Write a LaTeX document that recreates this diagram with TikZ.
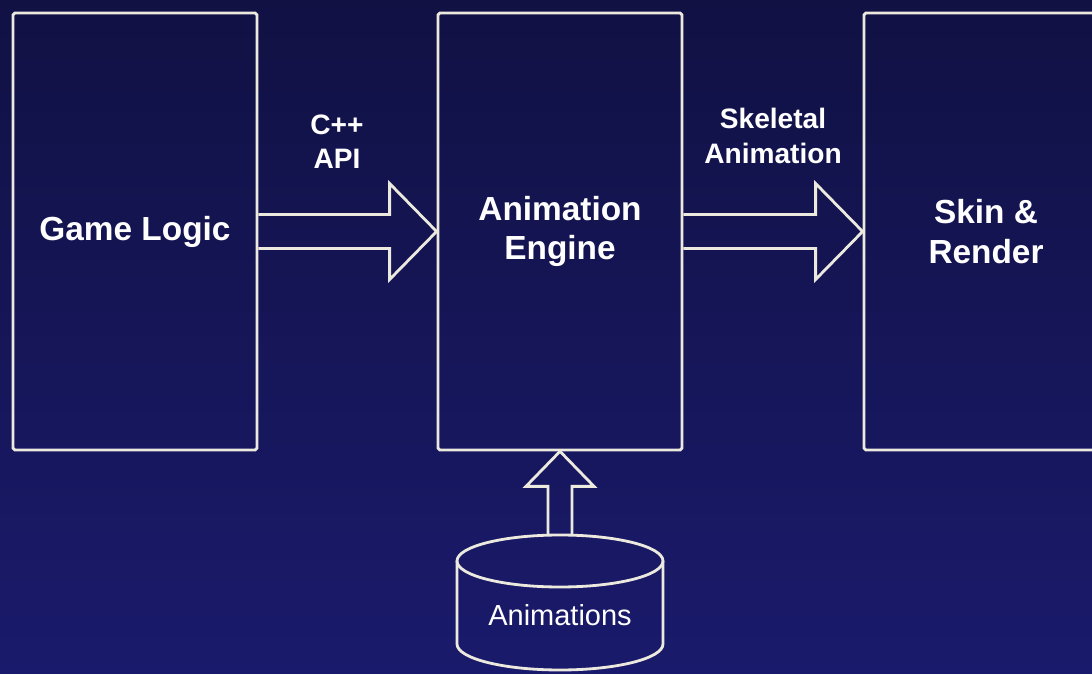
\documentclass[tikz,border=0pt]{standalone}
\usepackage{fontspec}
\setmainfont{Liberation Sans}
\usepackage{tikz}
\usetikzlibrary{positioning}
\definecolor{bgtop}{RGB}{17,17,68}
\definecolor{bgbottom}{RGB}{26,26,108}
\definecolor{chalk}{RGB}{236,234,222}
\tikzset{
  box/.style={draw=chalk,rounded corners=1pt,minimum width=4.88cm,minimum height=8.74cm,
    align=center,text=white,font=\fontsize{19}{22.7}\selectfont\bfseries},
  tag/.style={align=center,text=white,font=\fontsize{16}{19.5}\selectfont\bfseries},
  fat/.style={draw=chalk,line join=miter}
}
\begin{document}
\begin{tikzpicture}[x=0.02cm,y=0.02cm,line width=1.6pt]
        % backdrop
            \useasboundingbox (0,0) rectangle (1092,673);
            \clip (0,0) rectangle (1092,673);
            \shade[top color=bgtop,bottom color=bgbottom] (0,0) rectangle (1092,673);

        % the three stages
            \draw (135,441.5) node(logic) [box] {Game Logic}
                  (560,441.5) node(engine) [box] {Animation\\Engine}
                  (986,441.5) node(skin) [box] {Skin \&\\Render};

        % block arrows between stages
            \draw[fat] ([yshift=.34cm]logic.east) -| ([xshift=-.94cm,yshift=.96cm]engine.west)
                  -- (engine.west) -- ([xshift=-.94cm,yshift=-.96cm]engine.west)
                  |- ([yshift=-.34cm]logic.east);
            \draw[fat] ([yshift=.34cm]engine.east) -| ([xshift=-.94cm,yshift=.96cm]skin.west)
                  -- (skin.west) -- ([xshift=-.94cm,yshift=-.96cm]skin.west)
                  |- ([yshift=-.34cm]engine.east);

            \draw (337,531) node(api) [tag] {C++\\API}
                  (773,537) node(skel) [tag] {Skeletal\\Animation};

        % animation store
            \draw[draw=chalk] (457,112) -- (457,29) arc[start angle=180,end angle=360,x radius=103,y radius=26] -- (663,112);
            \draw[draw=chalk] (560,112) ellipse[x radius=103,y radius=26];
            \coordinate (dbtop) at (560,138);
            \draw (560,58) node(anims) [text=white,font=\fontsize{16.5}{20}\selectfont] {Animations};

            \draw[fat] ([xshift=-.24cm]dbtop) |- ([xshift=-.68cm,yshift=-.7cm]engine.south)
                  -- (engine.south) -- ([xshift=.68cm,yshift=-.7cm]engine.south)
                  -| ([xshift=.24cm]dbtop);
        \end{tikzpicture}
\end{document}
